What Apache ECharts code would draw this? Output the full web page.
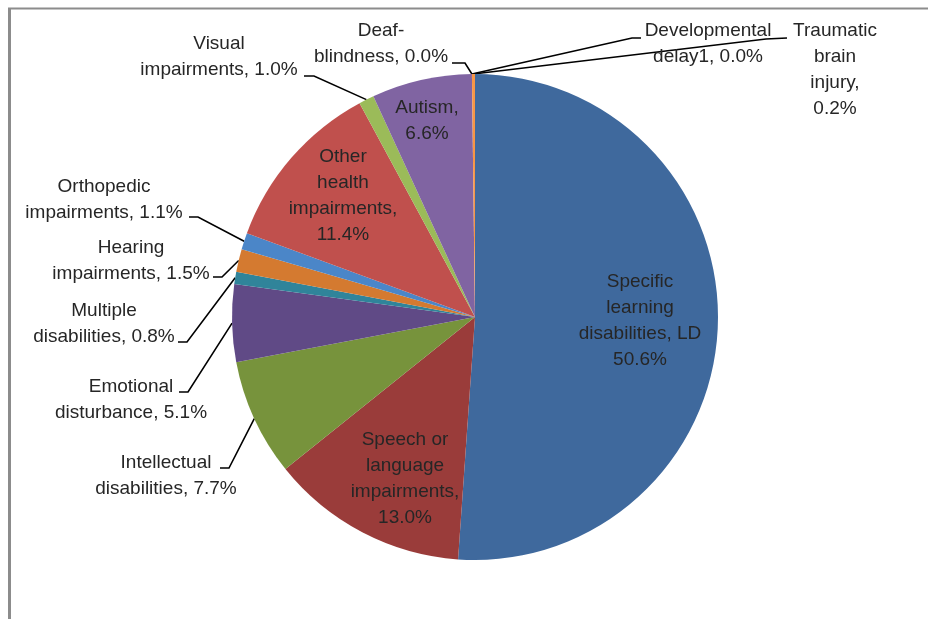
<!DOCTYPE html>
<html>
<head>
<meta charset="utf-8">
<script src="https://cdn.jsdelivr.net/npm/echarts@6/dist/echarts.min.js"></script>
<style>
  html, body { margin: 0; padding: 0; background: #ffffff; }
  #chart { width: 928px; height: 619px; }
</style>
</head>
<body>
<div id="chart"></div>
<script>
// Disability categories, in drawing order (clockwise from 12 o'clock)
var categories = [
  'Specific learning disabilities, LD',
  'Speech or language impairments',
  'Intellectual disabilities',
  'Emotional disturbance',
  'Multiple disabilities',
  'Hearing impairments',
  'Orthopedic impairments',
  'Other health impairments',
  'Visual impairments',
  'Autism',
  'Deaf-blindness',
  'Developmental delay1',
  'Traumatic brain injury'
];

// Share of students served, percent
var shares = [50.6, 13.0, 7.7, 5.1, 0.8, 1.5, 1.1, 11.4, 1.0, 6.6, 0.0, 0.0, 0.2];

// Label text preceding each value (line breaks as printed)
var labelLeads = [
  'Specific\nlearning\ndisabilities, LD\n',
  'Speech or\nlanguage\nimpairments,\n',
  'Intellectual\ndisabilities, ',
  'Emotional\ndisturbance, ',
  'Multiple\ndisabilities, ',
  'Hearing\nimpairments, ',
  'Orthopedic\nimpairments, ',
  'Other\nhealth\nimpairments,\n',
  'Visual\nimpairments, ',
  'Autism,\n',
  'Deaf-\nblindness, ',
  'Developmental\ndelay1, ',
  'Traumatic\nbrain\ninjury,\n'
];

// Whether each label sits inside its slice
var insideLabel = [true, true, false, false, false, false, false, true, false, true, false, false, false];

var sliceColors = [
  '#3f699d', '#9a3c3a', '#77933c', '#604a86', '#30849a', '#d47a30',
  '#4b86c8', '#c0504d', '#9bbb59', '#8064a2', '#8064a2', '#4bacc6', '#f79646'
];

// Label placement: block centre, plus leader elbow/end for outside labels
var labelPlacement = [
  { x: 640, y: 321 },
  { x: 405, y: 479 },
  { x: 166, y: 476, elbow: [229, 468], end: [220, 468] },
  { x: 131, y: 400, elbow: [188, 392], end: [179, 392] },
  { x: 104, y: 324, elbow: [187, 342], end: [178, 342] },
  { x: 131, y: 261, elbow: [222, 277], end: [213, 277] },
  { x: 104, y: 200, elbow: [198, 217], end: [189, 217] },
  { x: 343, y: 196 },
  { x: 219, y: 57, elbow: [314, 76], end: [304, 76] },
  { x: 427, y: 121 },
  { x: 381, y: 44, elbow: [465, 63], end: [452, 63] },
  { x: 708, y: 44, elbow: [632, 38], end: [641, 38] },
  { x: 835, y: 70, elbow: [766, 39], end: [787, 38] }
];

var pieData = categories.map(function (name, i) {
  return {
    name: name,
    value: shares[i],
    itemStyle: { color: sliceColors[i] },
    label: {
      position: insideLabel[i] ? 'inside' : 'outside',
      formatter: labelLeads[i] + shares[i].toFixed(1) + '%'
    },
    labelLine: { show: !insideLabel[i] }
  };
});

var chart = echarts.init(document.getElementById('chart'), null, { renderer: 'canvas' });

chart.setOption({
  backgroundColor: '#ffffff',
  animation: false,
  graphic: [
    { type: 'line', shape: { x1: 8, y1: 8.5, x2: 928, y2: 8.5 }, style: { stroke: '#8c8c8c', lineWidth: 2 } },
    { type: 'line', shape: { x1: 9.5, y1: 8, x2: 9.5, y2: 619 }, style: { stroke: '#8c8c8c', lineWidth: 3 } }
  ],
  series: [{
    type: 'pie',
    center: [475, 317],
    radius: 243,
    startAngle: 90,
    clockwise: true,
    avoidLabelOverlap: false,
    minShowLabelAngle: 0,
    itemStyle: { borderWidth: 0 },
    label: {
      show: true,
      color: '#262626',
      fontFamily: 'Liberation Sans',
      fontSize: 19,
      lineHeight: 26,
      align: 'center'
    },
    labelLine: {
      show: true,
      smooth: false,
      lineStyle: { color: '#000000', width: 1.6 }
    },
    labelLayout: function (params) {
      var p = labelPlacement[params.dataIndex];
      var out = { x: p.x, y: p.y, align: 'center', verticalAlign: 'middle' };
      if (p.elbow && params.labelLinePoints) {
        out.labelLinePoints = [params.labelLinePoints[0], p.elbow, p.end];
      }
      return out;
    },
    data: pieData
  }]
});
</script>
</body>
</html>
